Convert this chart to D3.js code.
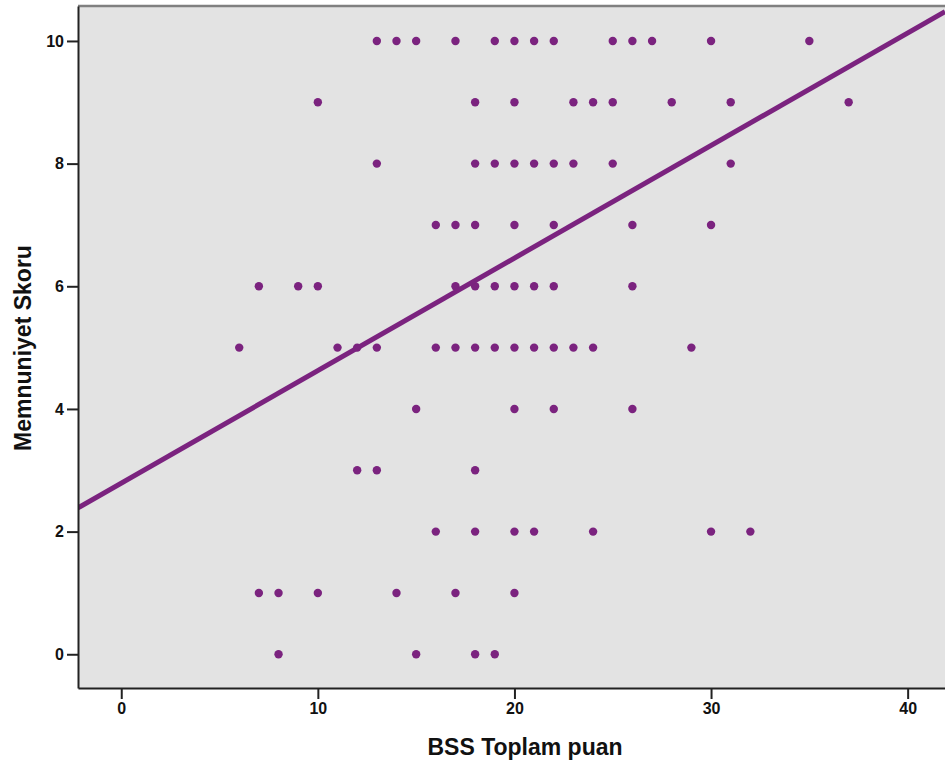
<!DOCTYPE html>
<html>
<head>
<meta charset="utf-8">
<script src="https://cdn.jsdelivr.net/npm/d3@7"></script>
<style>
    body { margin: 0; background: #fff; }
    text { font-family: "Liberation Sans", Arial, sans-serif; font-weight: bold; }
</style>
</head>
<body>
<div id="chart"></div>
<script>
"use strict";

// BSS Toplam puan values found at each Memnuniyet Skoru level
const skor10 = [13, 14, 15, 17, 19, 20, 21, 22, 25, 26, 27, 30, 35];
const skor9 = [10, 18, 20, 23, 24, 25, 28, 31, 37];
const skor8 = [13, 18, 19, 20, 21, 22, 23, 25, 31];
const skor7 = [16, 17, 18, 20, 22, 26, 30];
const skor6 = [7, 9, 10, 17, 18, 19, 20, 21, 22, 26];
const skor5 = [6, 11, 12, 13, 16, 17, 18, 19, 20, 21, 22, 23, 24, 29];
const skor4 = [15, 20, 22, 26];
const skor3 = [12, 13, 18];
const skor2 = [16, 18, 20, 21, 24, 30, 32];
const skor1 = [7, 8, 10, 14, 17, 20];
const skor0 = [8, 15, 18, 19];

const xTicks = [0, 10, 20, 30, 40];
const yTicks = [0, 2, 4, 6, 8, 10];

// Fit line
const fitIntercept = 2.79;
const fitSlope = 0.1835;

const rows = [skor0, skor1, skor2, skor3, skor4, skor5, skor6, skor7, skor8, skor9, skor10];
const points = [];
rows.forEach((xs, score) => xs.forEach(x => points.push({ x: x, y: score })));

const graphInfo = {
    width: 945,
    height: 765,
    marginLeft: 78,
    marginTop: 6,
    plotBottom: 688,
    xMin: -2.2,
    xMax: 41.9,
    yMin: -0.55,
    yMax: 10.57,
    color: "#7b237f",
    background: "#e3e3e3"
};

const svg = d3.select("#chart").append("svg")
    .attr("width", graphInfo.width)
    .attr("height", graphInfo.height);

const xScale = d3.scaleLinear()
    .domain([graphInfo.xMin, graphInfo.xMax])
    .range([graphInfo.marginLeft, graphInfo.width]);

const yScale = d3.scaleLinear()
    .domain([graphInfo.yMin, graphInfo.yMax])
    .range([graphInfo.plotBottom, graphInfo.marginTop]);

// Plot background
svg.append("rect")
    .attr("x", graphInfo.marginLeft)
    .attr("y", graphInfo.marginTop)
    .attr("width", graphInfo.width - graphInfo.marginLeft)
    .attr("height", graphInfo.plotBottom - graphInfo.marginTop)
    .attr("fill", graphInfo.background);

svg.append("clipPath")
    .attr("id", "plotClip")
    .append("rect")
    .attr("x", graphInfo.marginLeft)
    .attr("y", graphInfo.marginTop)
    .attr("width", graphInfo.width - graphInfo.marginLeft)
    .attr("height", graphInfo.plotBottom - graphInfo.marginTop);

// Top frame line is grey
svg.append("line")
    .attr("x1", graphInfo.marginLeft)
    .attr("x2", graphInfo.width)
    .attr("y1", graphInfo.marginTop)
    .attr("y2", graphInfo.marginTop)
    .attr("stroke", "#808080")
    .attr("stroke-width", 2.5);

// Scatter points
svg.append("g")
    .attr("fill", graphInfo.color)
    .selectAll("circle")
    .data(points)
    .join("circle")
    .attr("cx", d => xScale(d.x))
    .attr("cy", d => yScale(d.y))
    .attr("r", 4.2);

// Fit line
const line = d3.line()
    .x(d => xScale(d))
    .y(d => yScale(fitIntercept + fitSlope * d));

svg.append("path")
    .datum([graphInfo.xMin, graphInfo.xMax])
    .attr("clip-path", "url(#plotClip)")
    .attr("fill", "none")
    .attr("stroke", graphInfo.color)
    .attr("stroke-width", 5)
    .attr("d", line);

// x-axis
svg.append("g")
    .attr("transform", `translate(0,${graphInfo.plotBottom})`)
    .call(d3.axisBottom(xScale).tickValues(xTicks).tickSize(11).tickSizeOuter(0).tickPadding(4))
    .call(g => g.select(".domain").attr("stroke", "#222").attr("stroke-width", 2))
    .call(g => g.selectAll(".tick line").attr("stroke", "#222").attr("stroke-width", 2))
    .call(g => g.selectAll(".tick text").attr("font-size", 16).attr("fill", "#111")
        .attr("font-family", "'Liberation Sans', Arial, sans-serif"));

// y-axis
svg.append("g")
    .attr("transform", `translate(${graphInfo.marginLeft},0)`)
    .call(d3.axisLeft(yScale).tickValues(yTicks).tickSize(11).tickSizeOuter(0).tickPadding(3))
    .call(g => g.select(".domain").attr("stroke", "#222").attr("stroke-width", 2))
    .call(g => g.selectAll(".tick line").attr("stroke", "#222").attr("stroke-width", 2))
    .call(g => g.selectAll(".tick text").attr("font-size", 16).attr("fill", "#111")
        .attr("font-family", "'Liberation Sans', Arial, sans-serif"));

// Axis titles
svg.append("text")
    .attr("x", 525)
    .attr("y", 755)
    .attr("text-anchor", "middle")
    .attr("font-size", 23)
    .attr("fill", "#111")
    .text("BSS Toplam puan");

svg.append("text")
    .attr("transform", "translate(31,348) rotate(-90)")
    .attr("text-anchor", "middle")
    .attr("font-size", 23)
    .attr("fill", "#111")
    .text("Memnuniyet Skoru");
</script>
</body>
</html>
